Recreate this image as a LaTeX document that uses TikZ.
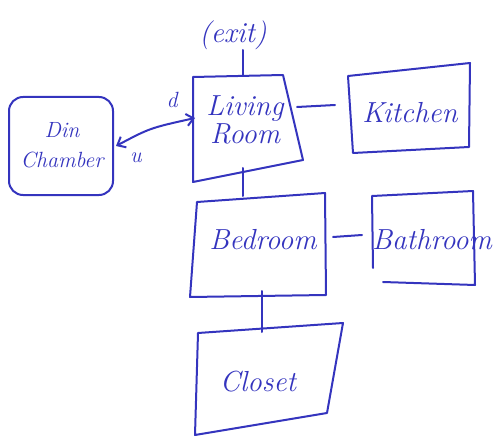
\documentclass[tikz,border=0pt]{standalone}
\usetikzlibrary{arrows.meta}
\definecolor{ink}{RGB}{52,52,190}
\begin{document}
\begin{tikzpicture}[x=1pt,y=-1pt,
  pen/.style={draw=ink,line width=2pt,line join=round,line cap=round},
  lbl/.style={text=ink,font=\fontsize{29}{28}\selectfont\itshape,align=center,inner sep=0pt},
  small/.style={text=ink,font=\fontsize{22}{22}\selectfont\itshape,inner sep=0pt}]
\useasboundingbox (0,0) rectangle (498,441);
% Living room
\coordinate (lr1) at (193,77); \coordinate (lr2) at (283,75);
\coordinate (lr3) at (303,160); \coordinate (lr4) at (193,182);
\draw[pen] (lr1) -- (lr2) -- (lr3) -- (lr4) -- cycle;
\node[lbl] (living) at (245,120) {Living\\Room};
% Kitchen
\coordinate (k1) at (348,76); \coordinate (k2) at (470,63);
\coordinate (k3) at (469,147); \coordinate (k4) at (353,153);
\draw[pen] (k1) -- (k2) -- (k3) -- (k4) -- cycle;
\node[lbl] (kitchen) at (410,113) {Kitchen};
% Bedroom
\coordinate (b1) at (197,202); \coordinate (b2) at (325,193);
\coordinate (b3) at (326,295); \coordinate (b4) at (190,297);
\draw[pen] (b1) -- (b2) -- (b3) -- (b4) -- cycle;
\node[lbl] (bedroom) at (263,240) {Bedroom};
% Bathroom
\coordinate (t1) at (372,196); \coordinate (t2) at (473,191);
\coordinate (t3) at (475,285); \coordinate (t4) at (383,282);
\coordinate (t5) at (373,268);
\draw[pen] (t4) -- (t3) -- (t2) -- (t1) -- (t5);
\node[lbl] (bathroom) at (432,240) {Bathroom};
% Closet
\coordinate (c1) at (198,333); \coordinate (c2) at (343,323);
\coordinate (c3) at (327,413); \coordinate (c4) at (195,435);
\draw[pen] (c1) -- (c2) -- (c3) -- (c4) -- cycle;
\node[lbl] (closet) at (258,382) {Closet};
% Dining chamber
\node[pen,rounded corners=14pt,minimum width=104pt,minimum height=98pt] (dining) at (61,146) {};
\node[lbl,font=\fontsize{22}{30}\selectfont\itshape] (dtext) at (62,145) {Din\\Chamber};
% exit
\node[lbl] (exit) at (233,35) {(exit)};
% connectors
\coordinate (e1) at (243,50); \coordinate (e2) at (243,76);
\draw[pen] (e1) -- (e2);
\coordinate (lk1) at (297,107); \coordinate (lk2) at (335,105);
\draw[pen] (lk1) -- (lk2);
\coordinate (lb1) at (243,168); \coordinate (lb2) at (243,196);
\draw[pen] (lb1) -- (lb2);
\coordinate (bt1) at (333,237); \coordinate (bt2) at (362,235);
\draw[pen] (bt1) -- (bt2);
\coordinate (bc1) at (262,291); \coordinate (bc2) at (262,332);
\draw[pen] (bc1) -- (bc2);
\coordinate (ad) at (116,146); \coordinate (al) at (195,118);
\draw[pen,{Straight Barb[length=7pt,width=12pt]}-{Straight Barb[length=7pt,width=12pt]}] (ad) .. controls (150,128) .. (al);
\node[small] (d) at (172,100) {d};
\node[small] (u) at (136,158) {u};
\end{tikzpicture}
\end{document}
